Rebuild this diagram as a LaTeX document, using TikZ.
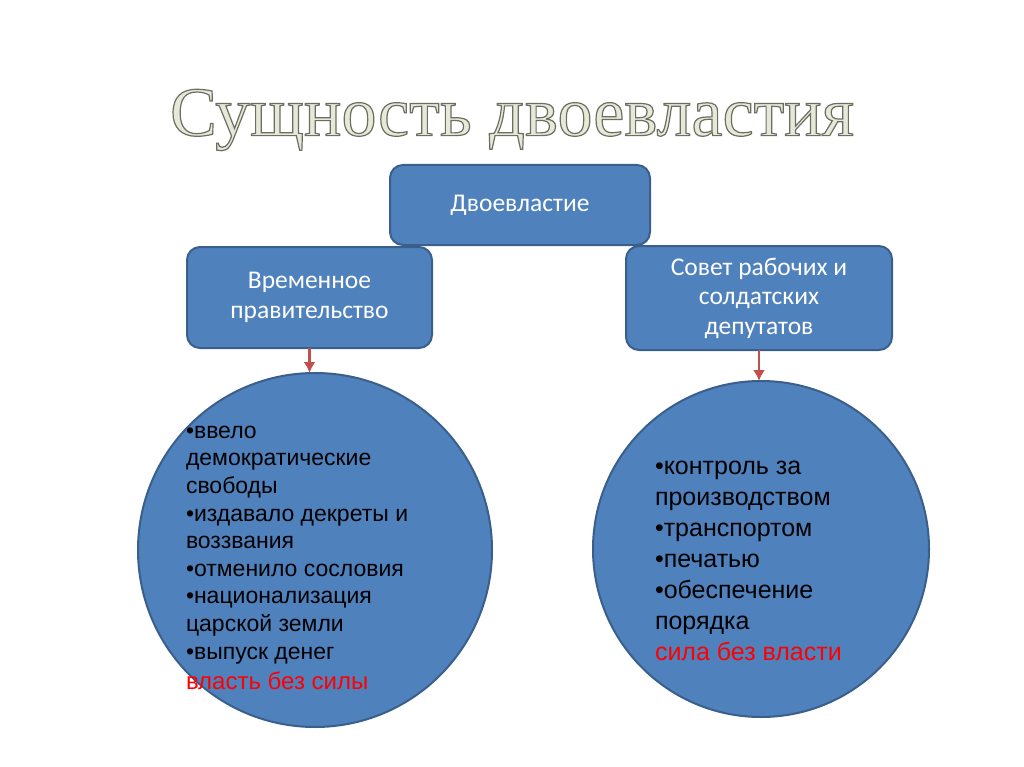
\documentclass[tikz,border=0pt]{standalone}
\usepackage{fontspec}
\setmainfont{Liberation Sans}
\newfontfamily\boxfont{Carlito}
\newfontfamily\titlefont{Liberation Serif}
\usetikzlibrary{arrows.meta}
\definecolor{boxblue}{HTML}{4F81BD}
\definecolor{boxline}{HTML}{3A5F8B}
\definecolor{arrowred}{HTML}{C0504D}
\definecolor{titlefill}{HTML}{E6E8D8}
% outlined lettering for the heading
\newcommand{\outlined}[1]{\special{pdf:literal direct 2 Tr 1.2 w 0.42 0.43 0.38 RG}#1\special{pdf:literal direct 0 Tr}}

\begin{document}
\begin{tikzpicture}[x=1pt, y=-1pt,
      every node/.append style={inner sep=0pt, outer sep=0pt},
      head/.style={draw=boxline, fill=boxblue, line width=2pt, rounded corners=13pt,
        text=white, align=center, font=\boxfont\fontsize{25.5}{29.5}\selectfont},
      bubble/.style={draw=boxline, fill=boxblue, line width=2pt, circle},
      down/.style={-{Latex[length=11pt,width=12pt]}, draw=arrowred, line width=2.5pt}]
    \tikzstyle{points} = [anchor=north west, align=left, text=black]
    \useasboundingbox (0,0) rectangle (1024,767);
    % title
    \node (title) at (512,120) [text=titlefill, font=\titlefont\fontsize{70}{76}\selectfont] {\outlined{Сущность двоевластия}};
    % boxes
    \node (dual) at (520,205) [head, minimum width=260pt, minimum height=80pt] {Двоевластие};
    \node (gov) at (309.5,297.5) [head, minimum width=245pt, minimum height=101pt] {Временное\\правительство};
    \node (soviet) at (759,298) [head, minimum width=266pt, minimum height=104pt] {Совет рабочих и\\солдатских\\депутатов};
    % circles
    \node (govcircle) at (315,550) [bubble, minimum size=354pt] {};
    \node (sovcircle) at (761,549) [bubble, minimum size=336pt] {};
    \node (govlist) at (186,426) [points, font=\fontsize{23}{27.6}\selectfont]
      {•ввело\\демократические\\свободы\\•издавало декреты и\\воззвания\\•отменило сословия\\•национализация\\царской земли\\•выпуск денег\\[2.5pt]{\fontsize{24}{30}\selectfont\textcolor{red}{власть без силы}}};
    \node (sovlist) at (655,461) [points, font=\fontsize{25}{31}\selectfont]
      {•контроль за\\производством\\•транспортом\\•печатью\\•обеспечение\\порядка\\\textcolor{red}{сила без власти}};
    % arrows
    \draw[down] (gov.south) -- (gov.south |- govcircle.north);
    \draw[down] (soviet.south) -- (soviet.south |- sovcircle.north);
\end{tikzpicture}
\end{document}
